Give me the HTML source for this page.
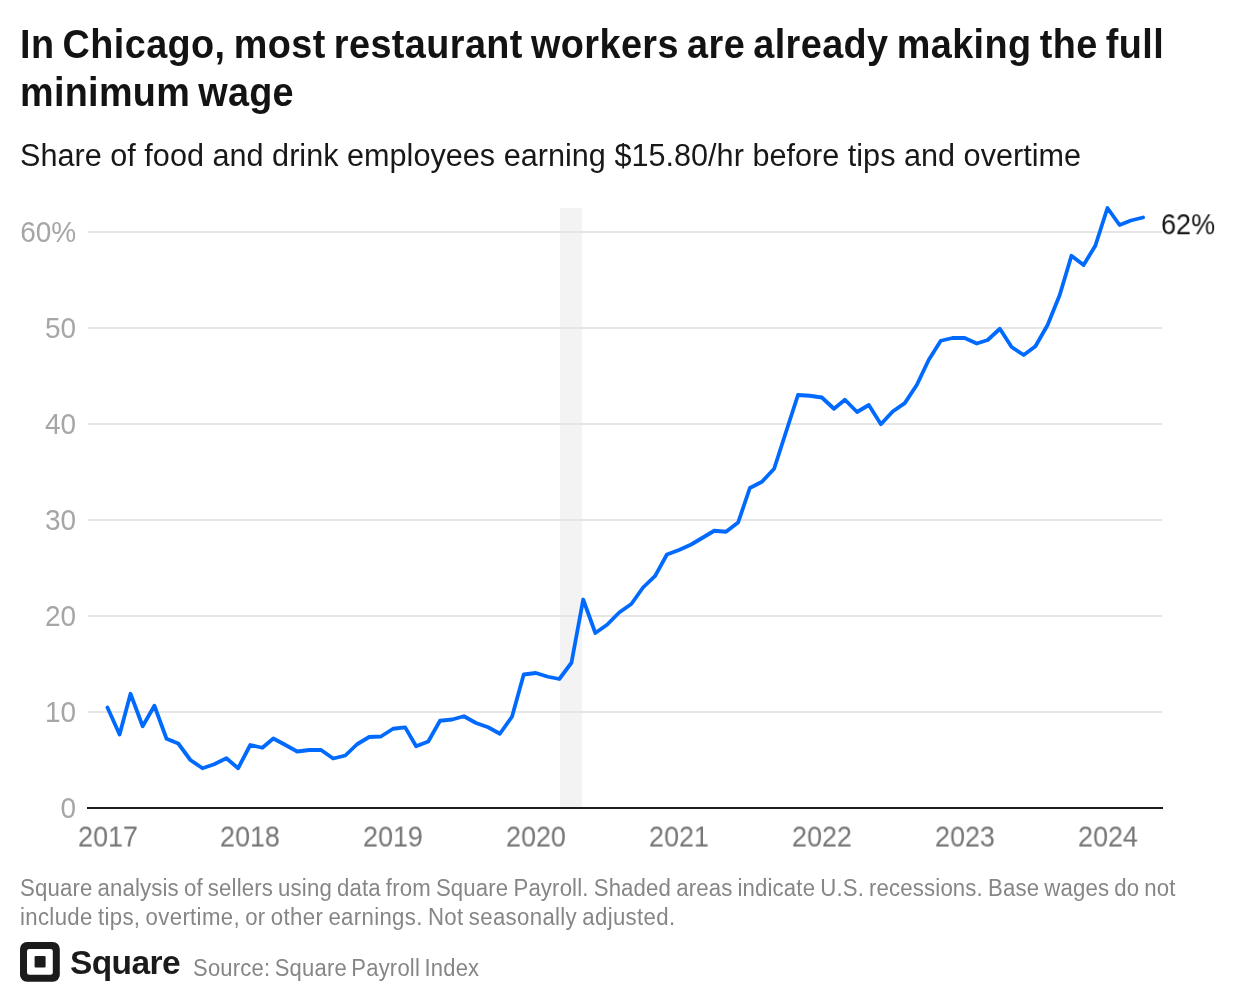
<!DOCTYPE html>
<html><head><meta charset="utf-8">
<style>
html,body{margin:0;padding:0;background:#fff;}
body{width:1256px;height:1002px;position:relative;overflow:hidden;font-family:"Liberation Sans",sans-serif;}
.abs{position:absolute;white-space:nowrap;}
.abs,.yl,.xl{will-change:transform;}
.title{left:20px;font-weight:bold;font-size:37.8px;line-height:48px;color:#131313;letter-spacing:0.41px;word-spacing:-2.7px;transform:scaleY(1.055);transform-origin:0 37.1px;}
.sub{left:19.5px;top:137.4px;font-size:30.6px;letter-spacing:0.02px;line-height:36px;color:#181818;transform:scaleY(1.035);transform-origin:0 28.6px;}
.yl{position:absolute;left:0;width:76.2px;text-align:right;font-size:28px;transform:scaleY(1.05);transform-origin:right center;line-height:32px;height:32px;color:#a6a6a6;white-space:nowrap;}
.xl{position:absolute;top:820.6px;width:80px;text-align:center;font-size:28px;transform:scale(0.96,1.03);transform-origin:center center;line-height:32px;color:#767676;white-space:nowrap;}
.note{left:19.5px;font-size:22.2px;line-height:29.3px;color:#868686;transform:scaleY(1.05);transform-origin:0 22px;}
.end{left:1161.4px;top:208.7px;font-size:28px;transform:scale(0.965,1.05);transform-origin:left center;line-height:32px;color:#161616;}
.sq{left:69.5px;top:942.5px;font-size:33.5px;letter-spacing:-0.6px;line-height:40px;font-weight:bold;color:#1b1b1b;}
.src{left:193.2px;top:955.8px;font-size:22px;line-height:26px;color:#868686;letter-spacing:0.22px;word-spacing:-2px;transform:scaleY(1.05);transform-origin:0 20.4px;}
svg{position:absolute;left:0;top:0;}
</style></head><body>
<div class="abs title" style="top:20.7px">In Chicago, most restaurant workers are already making the full</div>
<div class="abs title" style="top:68.6px;letter-spacing:0.3px">minimum wage</div>
<div class="abs sub">Share of food and drink employees earning $15.80/hr before tips and overtime</div>
<svg width="1256" height="1002" viewBox="0 0 1256 1002">
<rect x="560" y="208" width="22" height="600" fill="#f3f3f3"/>
<rect x="88" y="231.0" width="1074" height="2" fill="#e5e5e5"/>
<rect x="88" y="327.0" width="1074" height="2" fill="#e5e5e5"/>
<rect x="88" y="423.0" width="1074" height="2" fill="#e5e5e5"/>
<rect x="88" y="519.0" width="1074" height="2" fill="#e5e5e5"/>
<rect x="88" y="615.0" width="1074" height="2" fill="#e5e5e5"/>
<rect x="88" y="711.0" width="1074" height="2" fill="#e5e5e5"/>

<rect x="87" y="807" width="1076" height="2" fill="#1e1e1e"/>
<polyline points="107.45,707.50 119.58,734.50 130.53,693.75 142.66,726.25 154.40,705.75 166.53,738.75 178.26,743.50 190.39,760.00 202.52,768.25 214.26,764.25 226.39,758.25 238.12,768.25 250.25,745.00 262.38,747.75 273.33,738.50 285.46,745.00 297.20,751.50 309.33,750.00 321.07,750.00 333.19,758.50 345.32,755.50 357.06,744.25 369.19,737.00 380.92,736.50 393.05,728.75 405.18,727.40 416.14,746.25 428.26,741.50 440.00,720.75 452.13,719.50 463.87,716.25 475.99,723.00 488.12,727.25 499.86,733.75 511.99,716.75 523.73,674.50 535.85,673.00 547.98,676.75 559.33,679.00 571.46,662.75 583.19,599.50 595.32,633.00 607.06,624.75 619.19,612.50 631.32,604.00 643.05,587.50 655.18,575.90 666.92,554.50 679.05,550.00 691.17,544.50 702.13,538.00 714.26,530.75 725.99,531.75 738.12,522.50 749.86,488.00 761.99,481.75 774.12,468.75 785.85,432.50 797.98,395.00 809.72,395.75 821.85,397.50 833.98,408.75 844.93,399.75 857.06,412.00 868.80,405.00 880.92,424.25 892.66,411.50 904.79,403.10 916.92,384.75 928.66,360.00 940.78,340.75 952.52,338.00 964.65,338.00 976.78,343.50 987.73,340.00 999.86,328.75 1011.60,347.00 1023.73,355.00 1035.46,346.25 1047.59,325.00 1059.72,295.00 1071.46,255.75 1083.58,265.00 1095.32,245.75 1107.45,208.00 1119.58,225.00 1130.92,220.50 1143.05,217.50" fill="none" stroke="#006aff" stroke-width="3.8" stroke-linejoin="round" stroke-linecap="round"/>
<rect x="20" y="942" width="39.8" height="39.8" rx="7" fill="#1b1b1b"/>
<rect x="27" y="949" width="25.8" height="25.8" rx="2.3" fill="#fff"/>
<rect x="34.6" y="956.1" width="11" height="11.3" rx="1.2" fill="#1b1b1b"/>
</svg>
<div class="yl" style="top:217.1px">60%</div>
<div class="yl" style="top:313.1px">50</div>
<div class="yl" style="top:409.1px">40</div>
<div class="yl" style="top:505.1px">30</div>
<div class="yl" style="top:601.1px">20</div>
<div class="yl" style="top:697.1px">10</div>
<div class="yl" style="top:793.1px">0</div>
<div class="xl" style="left:67.5px">2017</div>
<div class="xl" style="left:210.3px">2018</div>
<div class="xl" style="left:353.1px">2019</div>
<div class="xl" style="left:495.9px">2020</div>
<div class="xl" style="left:639.0px">2021</div>
<div class="xl" style="left:781.8px">2022</div>
<div class="xl" style="left:924.6px">2023</div>
<div class="xl" style="left:1067.5px">2024</div>

<div class="abs end">62%</div>
<div class="abs note" style="top:873.6px;letter-spacing:0.145px;word-spacing:-1.2px">Square analysis of sellers using data from Square Payroll. Shaded areas indicate U.S. recessions. Base wages do not</div>
<div class="abs note" style="top:903.0px;letter-spacing:0.335px;word-spacing:-1.2px">include tips, overtime, or other earnings. Not seasonally adjusted.</div>
<div class="abs sq">Square</div>
<div class="abs src">Source: Square Payroll Index</div>
</body></html>
